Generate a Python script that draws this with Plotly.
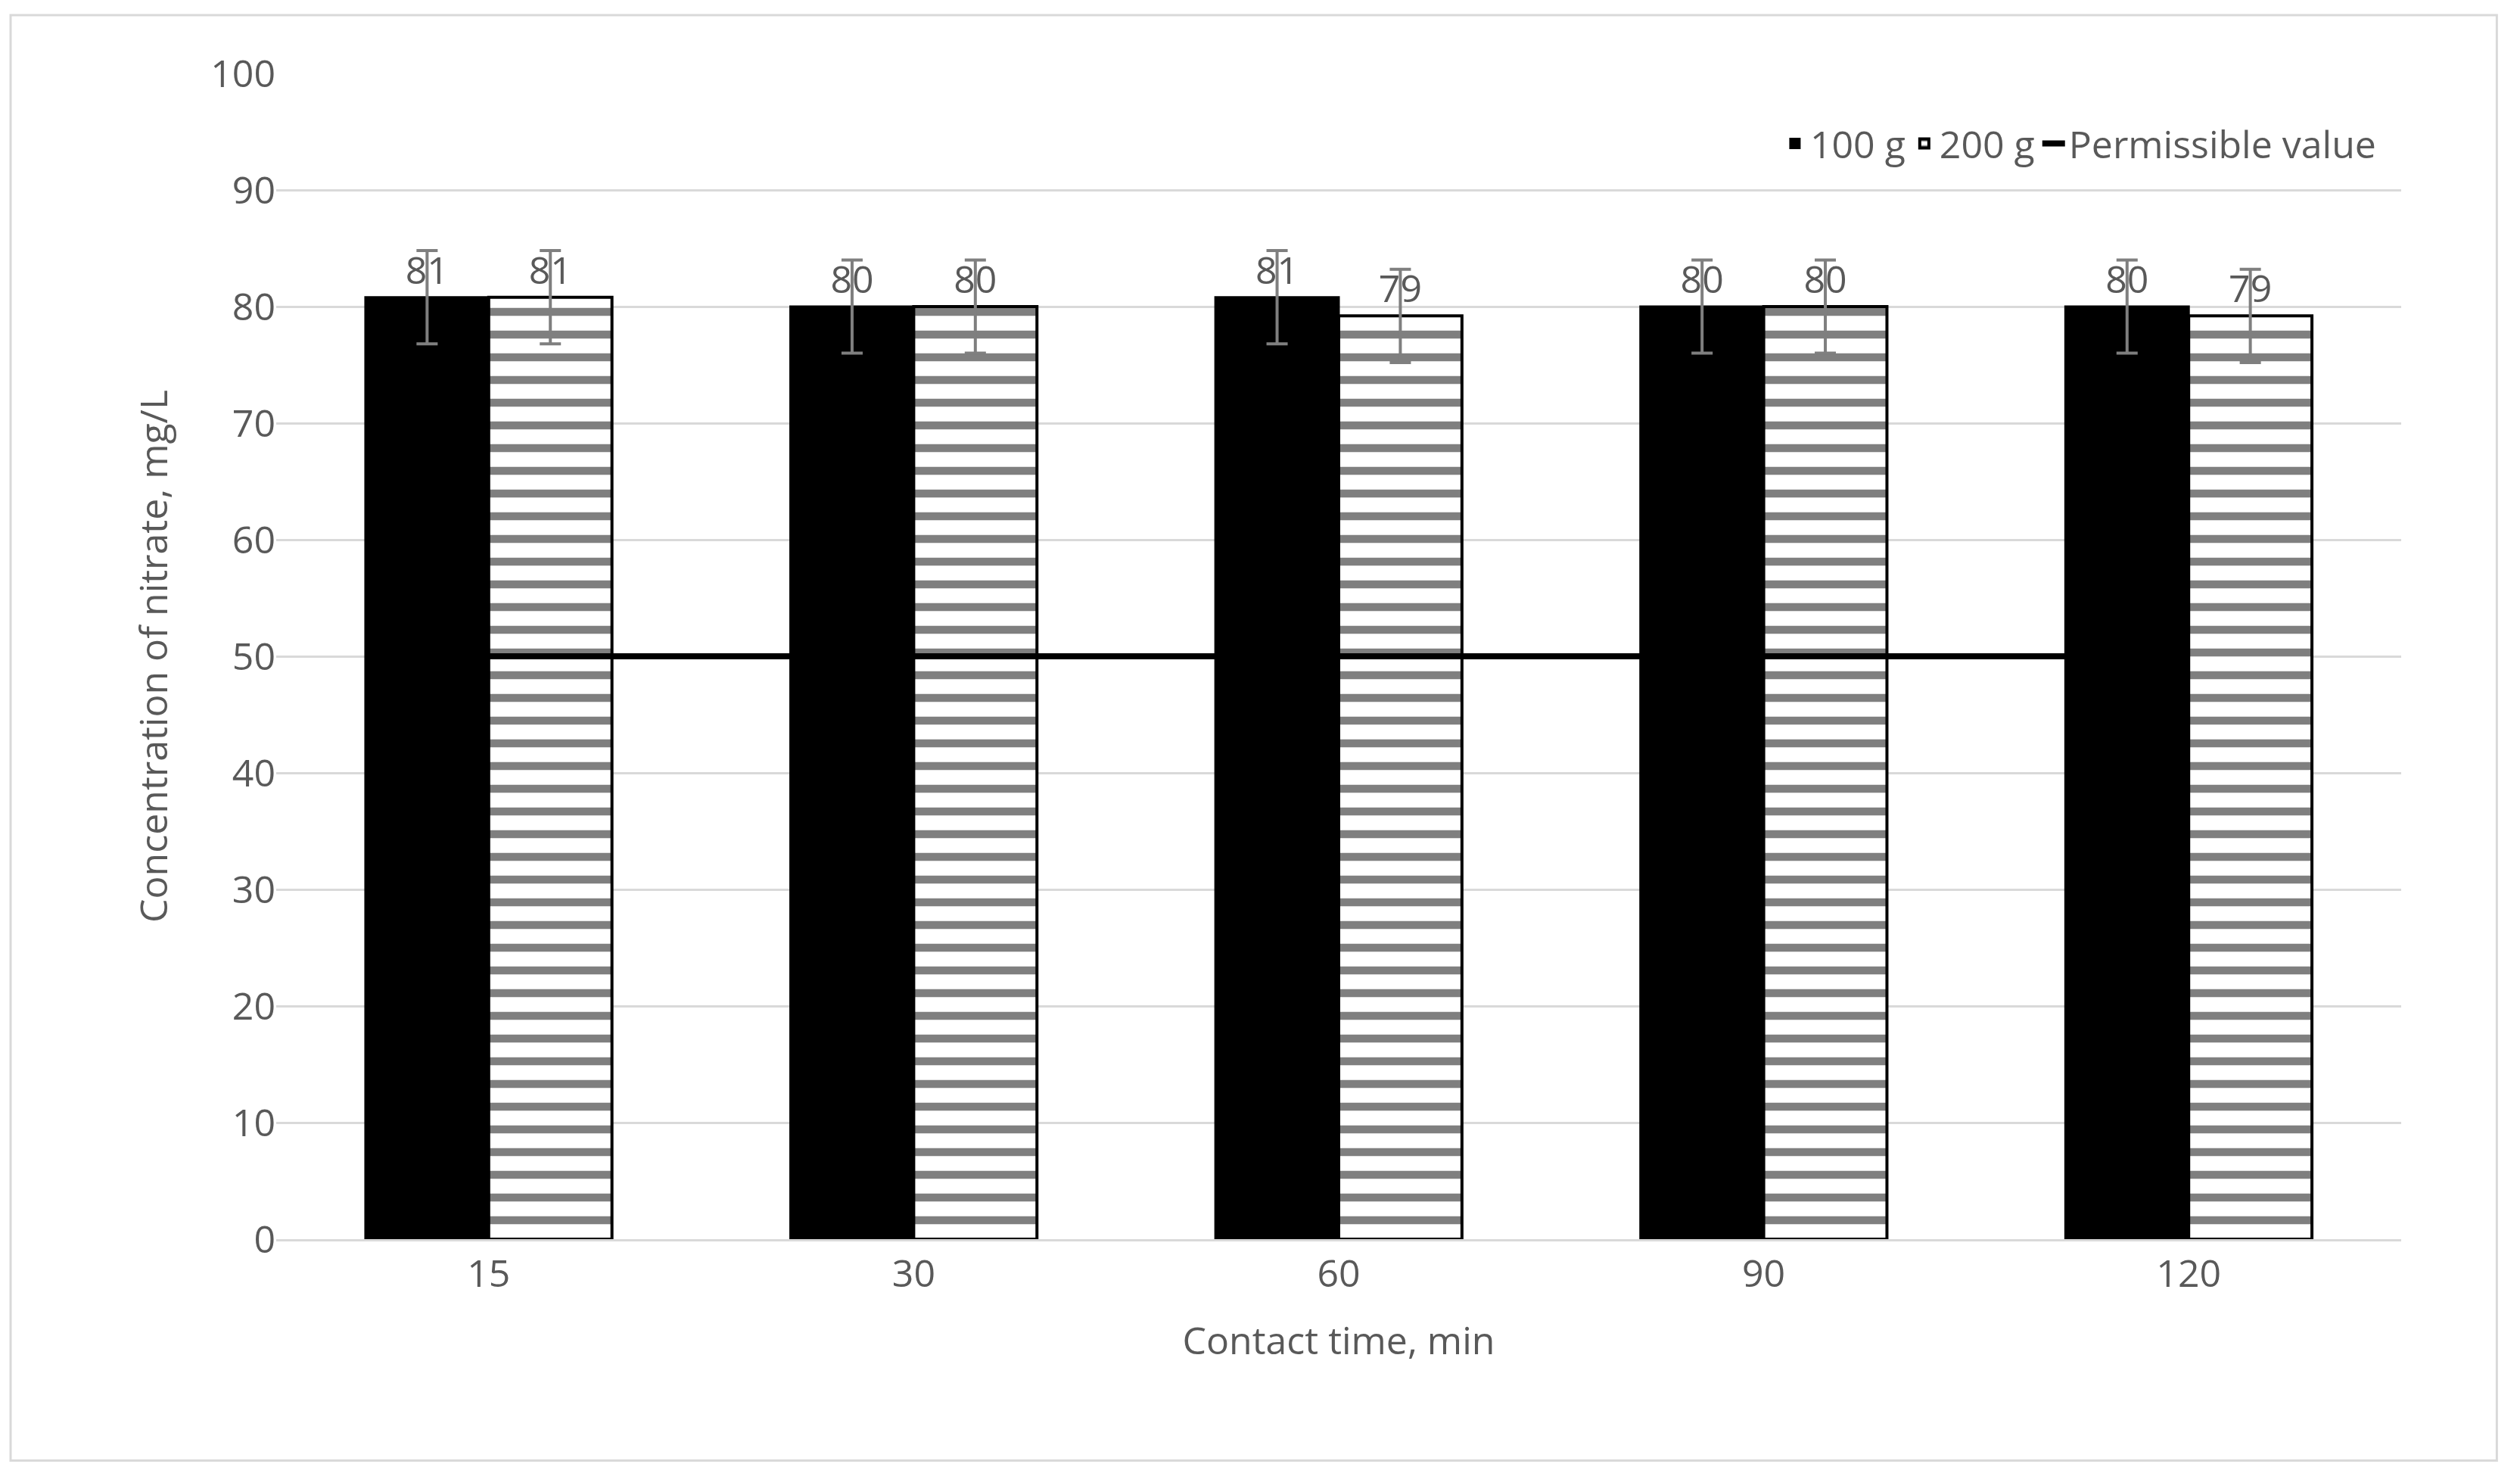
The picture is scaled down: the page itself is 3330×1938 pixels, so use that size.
import plotly.graph_objects as go

categories = ["15", "30", "60", "90", "120"]
g100 = [80.8, 80.0, 80.8, 80.0, 80.0]
g200 = [80.8, 80.0, 79.2, 80.0, 79.2]
labels100 = ["81", "80", "81", "80", "80"]
labels200 = ["81", "80", "79", "80", "79"]
err = [4, 4, 4, 4, 4]
permissible = [50, 50, 50, 50, 50]

grey = "#595959"
font = "Open Sans"
fs = 50

fig = go.Figure()
fig.add_bar(x=categories, y=g100, name="100 g", marker=dict(color="black", line=dict(color="black", width=3)),
            error_y=dict(type="data", array=err, color="#7f7f7f", thickness=4, width=14),
            text=labels100, textposition="outside", textfont=dict(size=fs, color=grey, family=font), cliponaxis=False)
fig.add_bar(x=categories, y=g200, name="200 g",
            marker=dict(color="white", line=dict(color="black", width=4),
                        pattern=dict(shape="-", fgcolor="black", bgcolor="white", size=30, solidity=0.35)),
            error_y=dict(type="data", array=err, color="#7f7f7f", thickness=4, width=14),
            text=labels200, textposition="outside", textfont=dict(size=fs, color=grey, family=font), cliponaxis=False)
fig.add_scatter(x=categories, y=permissible, mode="lines", name="Permissible value",
                line=dict(color="black", width=8))

fig.update_layout(
    width=3330, height=1938, barmode="group", bargap=0.42, bargroupgap=0,
    plot_bgcolor="white", paper_bgcolor="white",
    margin=dict(l=357, r=165, t=89, b=309),
    font=dict(family=font, size=fs, color=grey),
    legend=dict(orientation="h", x=0.99, xanchor="right", y=0.94, yanchor="middle",
                font=dict(size=fs, color=grey), bgcolor="rgba(0,0,0,0)"),
    uniformtext=dict(mode=False),
)
fig.update_yaxes(range=[0, 100], dtick=10, gridcolor="#d9d9d9", gridwidth=3, zeroline=False,
                 title=dict(text="Concentration of nitrate, mg/L", font=dict(size=fs, color=grey), standoff=40),
                 tickfont=dict(size=fs, color=grey), ticks="", showline=False)
fig.update_xaxes(showline=True, linecolor="#d9d9d9", linewidth=3, ticks="",
                 title=dict(text="Contact time, min", font=dict(size=fs, color=grey), standoff=40),
                 tickfont=dict(size=fs, color=grey))
fig.add_shape(type="rect", xref="paper", yref="paper", x0=-0.125, x1=1.045, y0=-0.19, y1=1.05,
              line=dict(color="#d9d9d9", width=3))
fig.write_html("out.html")
